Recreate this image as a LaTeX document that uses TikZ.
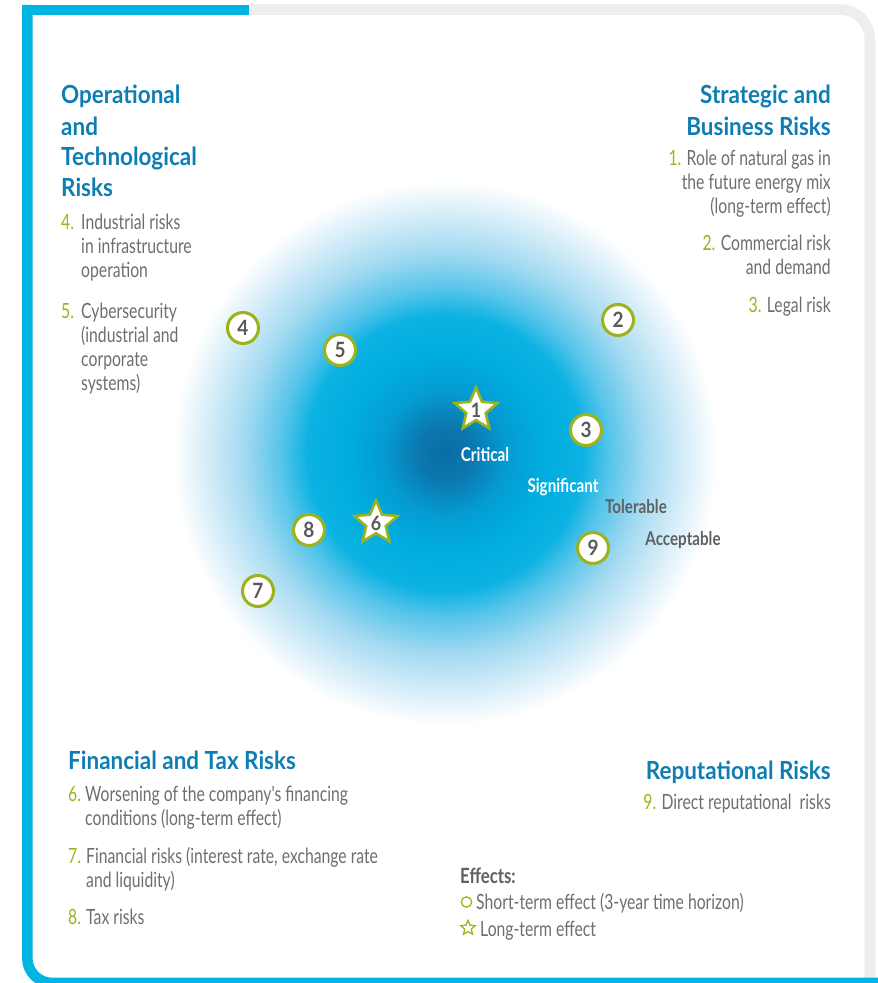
\documentclass[tikz,border=0pt]{standalone}
\usepackage{fontspec}
\setmainfont{Lato}
\newfontfamily\bodyfont[FakeStretch=0.75]{Lato}
\newfontfamily\headfont[FakeStretch=0.90]{Lato}
\newfontfamily\zonefont[FakeStretch=0.8]{Lato}
\usetikzlibrary{shapes.geometric}
\definecolor{frameCyan}{HTML}{00B5E2}
\definecolor{frameGrey}{HTML}{EDEEEE}
\definecolor{headBlue}{HTML}{0E7DB3}
\definecolor{numGreen}{HTML}{9CB31B}
\definecolor{textGrey}{HTML}{6D6E70}
\definecolor{markGrey}{HTML}{58595B}
\definecolor{zoneGrey}{HTML}{5F6062}
\definecolor{c0}{HTML}{0A6CA3}
\definecolor{c1}{HTML}{0B78B0}
\definecolor{c2}{HTML}{049CD2}
\definecolor{c3}{HTML}{00ADDF}
\definecolor{c4}{HTML}{0CB2E2}
\definecolor{c5}{HTML}{55C4EA}
\definecolor{c6}{HTML}{A4DAF1}
\definecolor{c7}{HTML}{D8EEF9}
\pgfdeclareradialshading{risk}{\pgfpoint{0bp}{0bp}}{color(0bp)=(c0); color(2.5bp)=(c1); color(5.6bp)=(c2); color(8.93bp)=(c3); color(12.3bp)=(c4); color(14.6bp)=(c5); color(18bp)=(c6); color(21.5bp)=(c7); color(24.3bp)=(white); color(50bp)=(white)}
\begin{document}
\begin{tikzpicture}[x=0.03cm,y=-0.03cm,
  body/.style={font=\bodyfont\fontsize{17.9}{20}\selectfont, text=textGrey, inner sep=0pt},
  num/.style={body, text=numGreen},
  head/.style={font=\headfont\bfseries\fontsize{21.3}{25}\selectfont, text=headBlue, inner sep=0pt},
  zone/.style={font=\zonefont\bfseries\fontsize{16.2}{18}\selectfont, inner sep=0pt},
  markc/.style={circle, draw=numGreen, line width=2.6pt, fill=white, minimum size=0.93cm, inner sep=0pt,
    font=\headfont\bfseries\fontsize{18}{20}\selectfont, text=markGrey},
  starmark/.style={star, star points=5, star point ratio=2.2, draw=numGreen, line width=2.2pt, fill=white,
    minimum size=1.26cm, inner sep=0pt, font=\headfont\bfseries\fontsize{17}{20}\selectfont, text=markGrey},
  band/.style={line width=9pt}
]
\useasboundingbox (0,0) rectangle (878,983);
% risk field
\shade[shading=risk] (445,453) circle[radius=8.4cm];
% frame
\draw[band, draw=frameGrey, rounded corners=0.9cm] (249,9.5) -- (870,9.5) -- (870,995);
\fill[frameCyan] (22,5) rectangle (249,15);
\draw[band, draw=frameCyan, rounded corners=0.75cm] (27.3,5) -- (27.3,983) -- (890,983);
% markers
\node[markc] (m4) at (243,328) {4};
\node[markc] (m5) at (340,350) {5};
\node[markc] (m2) at (618,320) {2};
\node[markc] (m3) at (586,430) {3};
\node[markc] (m9) at (593,548) {9};
\node[markc] (m8) at (309,530) {8};
\node[markc] (m7) at (258,591) {7};
\node[starmark] (s1) at (476,410) {1};
\node[starmark] (s6) at (376,523) {6};
% zone labels
\node[zone, text=white] (zc) at (485,455) {Critical};
\node[zone, text=white] (zs) at (563,487) {Significant};
\node[zone, text=zoneGrey] (zt) at (636,507) {Tolerable};
\node[zone, text=zoneGrey] (za) at (683,540) {Acceptable};
% operational
\node[head, anchor=base west] (h1a) at (61,104) {Operational};
\node[head, anchor=base west] (h1b) at (61,135) {and};
\node[head, anchor=base west] (h1c) at (61,165) {Technological};
\node[head, anchor=base west] (h1d) at (61,196) {Risks};
\node[num, anchor=base west] (n4) at (61,229) {4.};
\node[body, anchor=base west] (t4a) at (81,229) {Industrial risks};
\node[body, anchor=base west] (t4b) at (81,253) {in infrastructure};
\node[body, anchor=base west] (t4c) at (81,277) {operation};
\node[num, anchor=base west] (n5) at (61,318) {5.};
\node[body, anchor=base west] (t5a) at (81,318) {Cybersecurity};
\node[body, anchor=base west] (t5b) at (81,342) {(industrial and};
\node[body, anchor=base west] (t5c) at (81,366) {corporate};
\node[body, anchor=base west] (t5d) at (81,390) {systems)};
% strategic
\node[head, anchor=base east] (h2a) at (831,104) {Strategic and};
\node[head, anchor=base east] (h2b) at (831,135) {Business Risks};
\node[body, anchor=base east] (t1a) at (831,165) {\textcolor{numGreen}{1.} Role of natural gas in};
\node[body, anchor=base east] (t1b) at (831,189) {the future energy mix};
\node[body, anchor=base east] (t1c) at (831,213) {(long-term effect)};
\node[body, anchor=base east] (t2a) at (831,250) {\textcolor{numGreen}{2.} Commercial risk};
\node[body, anchor=base east] (t2b) at (831,274) {and demand};
\node[body, anchor=base east] (t3a) at (831,312) {\textcolor{numGreen}{3.} Legal risk};
% financial
\node[head, anchor=base west] (h3) at (68,769) {Financial and Tax Risks};
\node[num, anchor=base west] (n6) at (68,801) {6.};
\node[body, anchor=base west] (t6a) at (85,801) {Worsening of the company's financing};
\node[body, anchor=base west] (t6b) at (85,825) {conditions (long-term effect)};
\node[num, anchor=base west] (n7) at (68,863) {7.};
\node[body, anchor=base west] (t7a) at (86,863) {Financial risks (interest rate, exchange rate};
\node[body, anchor=base west] (t7b) at (86,887) {and liquidity)};
\node[num, anchor=base west] (n8) at (68,924) {8.};
\node[body, anchor=base west] (t8a) at (86,924) {Tax risks};
% reputational
\node[head, anchor=base east] (h4) at (831,779) {Reputational Risks};
\node[body, anchor=base east] (t9a) at (831,809) {\textcolor{numGreen}{9.} Direct reputational\ \ risks};
% effects
\node[zone, text=zoneGrey, font=\zonefont\bfseries\fontsize{17.9}{20}\selectfont, anchor=base west] (eh) at (460,883) {Effects:};
\node[circle, draw=numGreen, line width=1.1pt, minimum size=0.31cm, inner sep=0pt] (ec) at (466.5,902) {};
\node[body, anchor=base west] (et1) at (476,909) {Short-term effect (3-year time horizon)};
\node[star, star points=5, star point ratio=2.2, draw=numGreen, line width=1.1pt, minimum size=0.46cm, inner sep=0pt] (es) at (468,928) {};
\node[body, anchor=base west] (et2) at (480,936) {Long-term effect};
\end{tikzpicture}
\end{document}
